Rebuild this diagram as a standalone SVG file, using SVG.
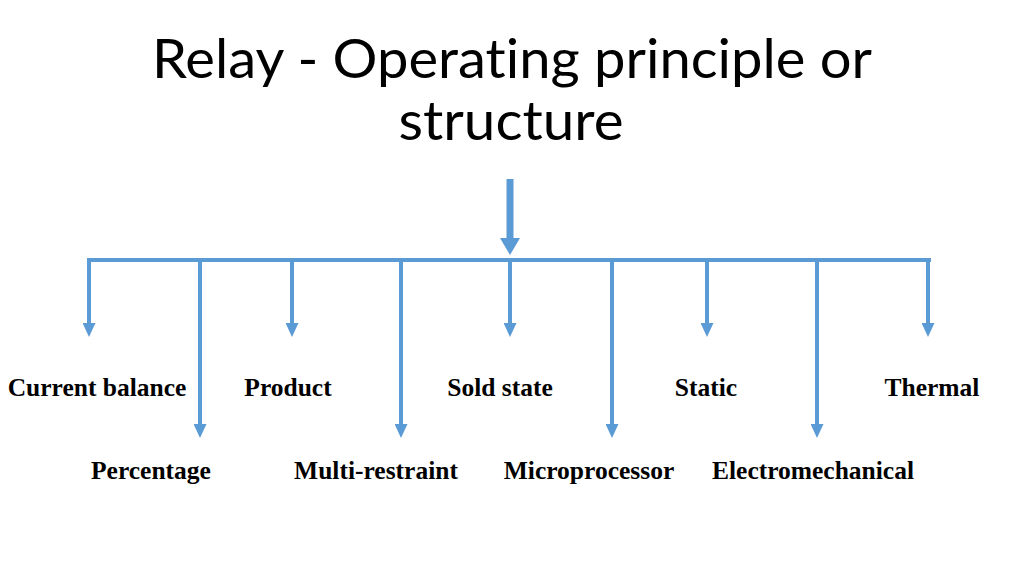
<svg xmlns="http://www.w3.org/2000/svg" width="1024" height="576" viewBox="0 0 1024 576">
<style>
.title{font-family:Lato,"Open Sans","Liberation Sans",sans-serif;font-size:55px;fill:#000;text-anchor:middle;font-variant-ligatures:none}
.lbl{font-family:"Liberation Serif","Times New Roman",serif;font-weight:bold;font-size:25.5px;fill:#000;text-anchor:middle}
.c{stroke:#5B9BD5;stroke-width:4;fill:none}
</style>
<defs>
<marker id="ah" viewBox="0 0 14 13" refX="4" refY="6.5" markerWidth="14" markerHeight="13" markerUnits="userSpaceOnUse" orient="auto">
<path d="M0,0 L14,6.5 L0,13 z" fill="#5B9BD5"/>
</marker>
<marker id="ahBig" viewBox="0 0 17 20" refX="4" refY="10" markerWidth="17" markerHeight="20" markerUnits="userSpaceOnUse" orient="auto">
<path d="M0,0 L17,10 L0,20 z" fill="#5B9BD5"/>
</marker>
</defs>
<rect width="1024" height="576" fill="#fff"/>
<g id="title">
<text class="title" x="512" y="78" textLength="720" lengthAdjust="spacingAndGlyphs">Relay - Operating principle or</text>
<text class="title" x="511" y="140" textLength="225" lengthAdjust="spacingAndGlyphs">structure</text>
</g>
<g id="connectors">
<line x1="510" y1="179" x2="510" y2="242" stroke="#5B9BD5" stroke-width="7" marker-end="url(#ahBig)"/>
<line class="c" x1="87" y1="260" x2="931" y2="260"/>
<line class="c" x1="89" y1="258" x2="89" y2="327" marker-end="url(#ah)"/>
<line class="c" x1="200" y1="258" x2="200" y2="428" marker-end="url(#ah)"/>
<line class="c" x1="292" y1="258" x2="292" y2="327" marker-end="url(#ah)"/>
<line class="c" x1="401" y1="258" x2="401" y2="428" marker-end="url(#ah)"/>
<line class="c" x1="510" y1="258" x2="510" y2="327" marker-end="url(#ah)"/>
<line class="c" x1="612" y1="258" x2="612" y2="428" marker-end="url(#ah)"/>
<line class="c" x1="707" y1="258" x2="707" y2="327" marker-end="url(#ah)"/>
<line class="c" x1="817" y1="258" x2="817" y2="428" marker-end="url(#ah)"/>
<line class="c" x1="928" y1="258" x2="928" y2="327" marker-end="url(#ah)"/>
</g>
<g id="n-current"><text class="lbl" x="97" y="396">Current balance</text></g>
<g id="n-product"><text class="lbl" x="288" y="396">Product</text></g>
<g id="n-sold"><text class="lbl" x="500" y="396">Sold state</text></g>
<g id="n-static"><text class="lbl" x="706" y="396">Static</text></g>
<g id="n-thermal"><text class="lbl" x="932" y="396">Thermal</text></g>
<g id="n-percentage"><text class="lbl" x="151" y="479">Percentage</text></g>
<g id="n-multi"><text class="lbl" x="376" y="479">Multi-restraint</text></g>
<g id="n-micro"><text class="lbl" x="589" y="479">Microprocessor</text></g>
<g id="n-electro"><text class="lbl" x="813" y="479">Electromechanical</text></g>
</svg>
